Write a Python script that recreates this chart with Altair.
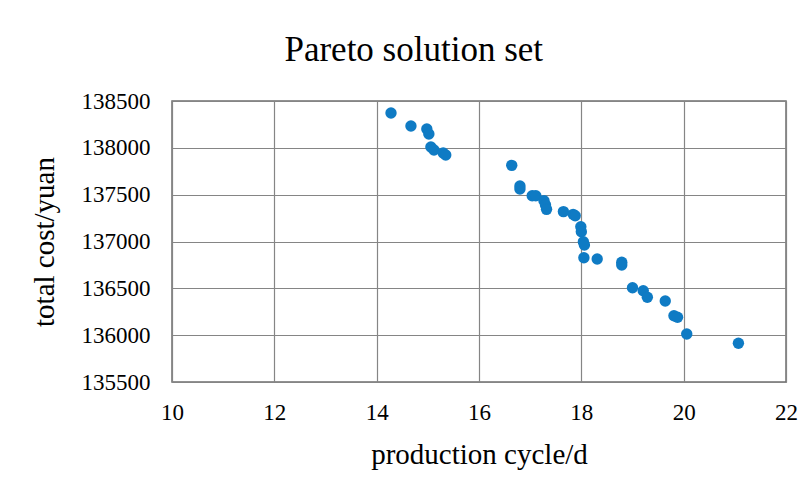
import altair as alt
import pandas as pd

production_cycle = [14.28, 14.67, 14.98, 15.02, 15.06, 15.12, 15.30, 15.35,
                    16.64, 16.80, 16.80, 17.04, 17.11, 17.27, 17.30, 17.32,
                    17.65, 17.84, 17.88, 17.99, 18.00, 18.04, 18.06, 18.05,
                    18.31, 18.79, 18.79, 19.00, 19.21, 19.29, 19.64, 19.81,
                    19.88, 20.06, 21.07]
total_cost = [138372, 138233, 138201, 138148, 138009, 137977, 137945, 137924,
              137813, 137593, 137561, 137489, 137489, 137436, 137390, 137343,
              137319, 137290, 137275, 137158, 137105, 136998, 136963, 136827,
              136813, 136778, 136749, 136507, 136475, 136404, 136365, 136208,
              136191, 136013, 135913]
x_ticks = [10, 12, 14, 16, 18, 20, 22]
y_ticks = [135500, 136000, 136500, 137000, 137500, 138000, 138500]

df = pd.DataFrame({"x": production_cycle, "y": total_cost})

FONT = "Liberation Serif"

chart = alt.Chart(df).mark_circle(size=130, color="#0f7bc4", opacity=1).encode(
    x=alt.X("x:Q", scale=alt.Scale(domain=[10, 22], nice=False, zero=False),
            axis=alt.Axis(title="production cycle/d", values=x_ticks, format="d",
                          ticks=False, labelPadding=19, titlePadding=16, labelFlush=False,
                          labelFontSize=23, titleFontSize=29)),
    y=alt.Y("y:Q", scale=alt.Scale(domain=[135500, 138500], nice=False, zero=False),
            axis=alt.Axis(title="total cost/yuan", values=y_ticks, format="d",
                          ticks=False, labelPadding=22, titlePadding=22, labelFlush=False,
                          labelFontSize=23, titleFontSize=29)),
).properties(
    width=614,
    height=281,
    title=alt.TitleParams("Pareto solution set", fontSize=35, font=FONT, fontWeight="normal",
                          anchor="middle", frame="bounds", offset=22, color="#000000"),
    autosize=alt.AutoSizeParams(type="none"),
    padding={"left": 164, "top": 93, "right": 16, "bottom": 100},
).configure_axis(
    labelFont=FONT, titleFont=FONT, labelColor="#000000", titleColor="#000000",
    titleFontWeight="normal", grid=True, gridColor="#858585", gridWidth=1.2,
    domain=False,
).configure_view(
    stroke="#6e6e6e", strokeWidth=1.5,
)

chart.save("out.html", embed_options={"renderer": "svg", "actions": False})
